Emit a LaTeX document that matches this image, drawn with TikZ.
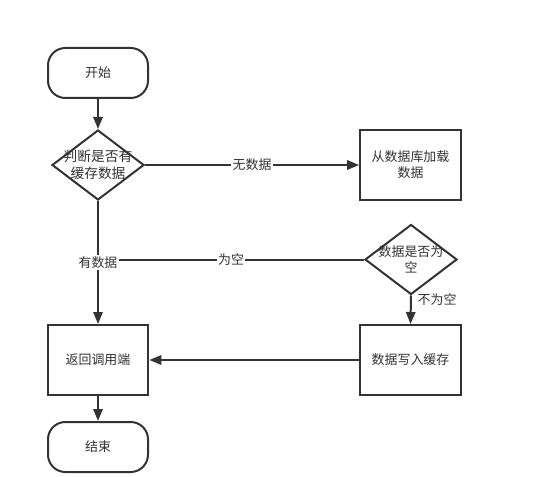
\documentclass[tikz,border=0pt]{standalone}
\usepackage{fontspec}
\setmainfont{Noto Sans CJK SC}
\usetikzlibrary{shapes.geometric,arrows.meta}
\definecolor{ink}{HTML}{333333}
\begin{document}
\begin{tikzpicture}[x=0.75pt,y=-0.75pt,
  font=\fontsize{9.7pt}{12pt}\selectfont, text=ink,
  base/.style={draw=ink,line width=1.5pt,fill=white},
  term/.style={base,rounded corners=13pt,minimum width=75pt,minimum height=37.5pt},
  proc/.style={base,minimum width=75.5pt,minimum height=52.5pt,align=center,inner sep=2pt},
  dec/.style={base,diamond,minimum width=69pt,minimum height=52.5pt,inner sep=0pt},
  arr/.style={draw=ink,line width=1.5pt,-{Triangle[length=9pt,width=7pt]}},
  ln/.style={draw=ink,line width=1.5pt},
  lab/.style={fill=white,inner sep=1pt}]
\useasboundingbox (0,0) rectangle (542,477);
\node[term] (start) at (98,73) {开始};
\node[dec] (d1) at (98,165) {};
\node[align=center,font=\fontsize{10.3pt}{12.5pt}\selectfont] (d1t) at (98,165) {判断是否有\\缓存数据};
\node[proc] (load) at (410.5,165) {从数据库加载\\数据};
\node[dec] (d2) at (411,259.5) {};
\node[align=center] (d2t) at (411,259.5) {数据是否为\\空};
\node[proc] (write) at (410.5,360) {数据写入缓存};
\node[proc] (ret) at (98,360) {返回调用端};
\node[term] (stop) at (98,447) {结束};
\coordinate (join) at (98,259.5);

\draw[arr] (start) -- (d1);
\draw[arr] (d1.east) -- node[lab,pos=0.5] (l1) {无数据} (load.west);
\draw[ln] (d2.west) -- node[lab,pos=0.5] (l2) {为空} (join);
\draw[arr] (d1.south) -- node[lab,pos=0.5] (l3) {有数据} (ret.north);
\draw[arr] (d2.south) -- node[right,pos=0.15,xshift=1pt] (l4) {不为空} (write.north);
\draw[arr] (write.west) -- (ret.east);
\draw[arr] (ret) -- (stop);
\end{tikzpicture}
\end{document}
